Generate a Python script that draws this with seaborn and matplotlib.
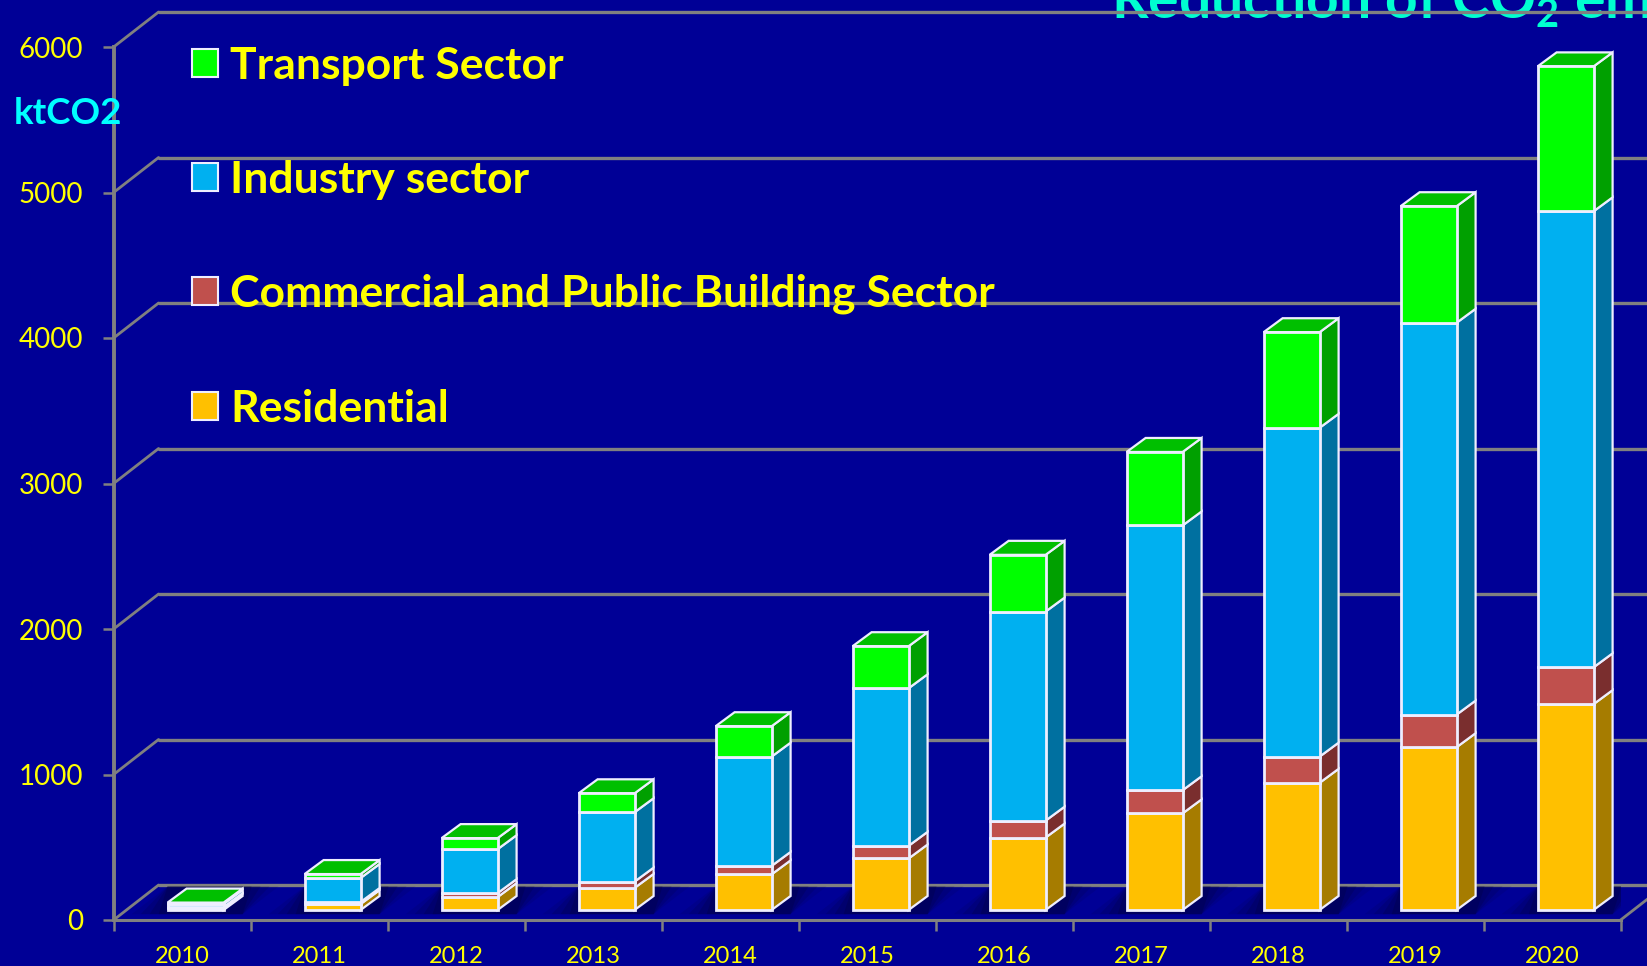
"""Stacked pseudo-3D bars of CO2 reduction by sector, 2010-2020."""

from __future__ import annotations

import matplotlib

matplotlib.use("Agg")

import matplotlib.pyplot as plt
import pandas as pd
import seaborn as sns
from matplotlib.patches import Patch, Polygon

YEARS = ["2010", "2011", "2012", "2013", "2014", "2015", "2016", "2017", "2018", "2019", "2020"]
RESIDENTIAL = [15, 41, 89, 152, 245, 354, 498, 664, 874, 1119, 1415]
COMMERCIAL = [5, 14, 27, 43, 58, 87, 116, 159, 180, 224, 253]
INDUSTRY = [22, 165, 302, 477, 751, 1083, 1437, 1820, 2260, 2693, 3134]
TRANSPORT = [9, 27, 76, 130, 209, 289, 390, 505, 657, 801, 996]
Y_TICKS = [0, 1000, 2000, 3000, 4000, 5000, 6000]

LEGEND_LABELS = [
    "Transport Sector",
    "Industry sector",
    "Commercial and Public Building Sector",
    "Residential",
]

BG = "#000096"
GREY = "#808080"
EDGE = "#eeeeff"
YELLOW = "#ffff00"

# face colour, side colour
SECTOR_COLORS = {
    "Residential": ("#ffc000", "#a67c00"),
    "Commercial": ("#c0504d", "#7a2e2e"),
    "Industry": ("#00b0f0", "#0070a0"),
    "Transport": ("#00ff00", "#00a000"),
}
TOP_COLOR = "#00bf00"

FIG_W, FIG_H = 1647, 966
AX_LEFT, AX_RIGHT = 113.6, 1620.6
AX_TOP, AX_BOTTOM = 47, 920

PX_X = (AX_RIGHT - AX_LEFT) / 11
PX_Y = (AX_BOTTOM - AX_TOP) / 6000

WALL_DX, WALL_DY = 45 / PX_X, 35 / PX_Y
BAR_DX, BAR_DY = 13.5 / PX_X, 10 / PX_Y
SIDE_DX, SIDE_DY = 19 / PX_X, 14 / PX_Y
BAR_WIDTH = 56 / PX_X


def draw_walls(ax) -> None:
    for v in Y_TICKS:
        back = v + WALL_DY
        ax.plot([-0.5, -0.5 + WALL_DX], [v, back], color=GREY, lw=2.0, clip_on=False, zorder=1)
        ax.plot([-0.5 + WALL_DX, 10.5 + WALL_DX], [back, back], color=GREY, lw=2.4, clip_on=False, zorder=1)
    ax.plot([10.5, 10.5 + WALL_DX], [0, WALL_DY], color=GREY, lw=2.0, clip_on=False, zorder=1)


def draw_shadows(ax) -> None:
    for i in range(len(YEARS)):
        left = i - BAR_WIDTH / 2 + BAR_DX
        right = left + BAR_WIDTH + SIDE_DX
        for grow, alpha in [(1.0, 0.12), (0.75, 0.18), (0.5, 0.24), (0.25, 0.3)]:
            reach = grow * 36 / PX_X
            ax.add_patch(
                Polygon(
                    [
                        (left - reach, 40),
                        (right, 40),
                        (right + reach, WALL_DY - 10),
                        (left, WALL_DY - 10),
                    ],
                    closed=True,
                    facecolor="#000040",
                    edgecolor="none",
                    alpha=alpha,
                    zorder=1.5,
                )
            )


def draw_bars(ax) -> None:
    df = pd.DataFrame(
        {
            "year": YEARS,
            "Residential": RESIDENTIAL,
            "Commercial": COMMERCIAL,
            "Industry": INDUSTRY,
            "Transport": TRANSPORT,
        }
    )
    bottom = pd.Series([0] * len(df), dtype=float)
    for sector, (face, side) in SECTOR_COLORS.items():
        before = len(ax.patches)
        sns.barplot(
            data=df,
            x="year",
            y=sector,
            bottom=bottom,
            width=BAR_WIDTH,
            color=face,
            saturation=1,
            edgecolor=EDGE,
            linewidth=2.0,
            ax=ax,
            zorder=3,
        )
        for bar in ax.patches[before:]:
            bar.set_x(bar.get_x() + BAR_DX)
            bar.set_y(bar.get_y() + BAR_DY)
            bar.set_clip_on(False)
            x1 = bar.get_x() + bar.get_width()
            y0 = bar.get_y()
            y1 = y0 + bar.get_height()
            ax.add_patch(
                Polygon(
                    [(x1, y0), (x1 + SIDE_DX, y0 + SIDE_DY), (x1 + SIDE_DX, y1 + SIDE_DY), (x1, y1)],
                    closed=True,
                    facecolor=side,
                    edgecolor=EDGE,
                    linewidth=1.6,
                    zorder=2.8,
                    clip_on=False,
                )
            )
            if sector == "Transport":
                x0 = bar.get_x()
                ax.add_patch(
                    Polygon(
                        [(x0, y1), (x0 + SIDE_DX, y1 + SIDE_DY), (x1 + SIDE_DX, y1 + SIDE_DY), (x1, y1)],
                        closed=True,
                        facecolor=TOP_COLOR,
                        edgecolor=EDGE,
                        linewidth=1.6,
                        zorder=2.8,
                        clip_on=False,
                    )
                )
        bottom = bottom + df[sector]


def main() -> None:
    sns.set_theme(style="white")
    plt.rcParams["font.family"] = ["Lato", "DejaVu Sans"]
    plt.rcParams["mathtext.fontset"] = "custom"
    plt.rcParams["mathtext.rm"] = "Lato:bold"

    fig = plt.figure(figsize=(FIG_W / 100, FIG_H / 100), dpi=100, facecolor=BG)
    ax = fig.add_axes(
        [
            AX_LEFT / FIG_W,
            1 - AX_BOTTOM / FIG_H,
            (AX_RIGHT - AX_LEFT) / FIG_W,
            (AX_BOTTOM - AX_TOP) / FIG_H,
        ],
        facecolor=BG,
    )

    draw_walls(ax)
    draw_shadows(ax)
    draw_bars(ax)

    ax.set_xlim(-0.5, 10.5)
    ax.set_ylim(0, 6000)
    ax.set_xlabel("")
    ax.set_ylabel("")

    ax.set_yticks(Y_TICKS)
    ax.tick_params(axis="y", colors=GREY, labelcolor=YELLOW, labelsize=20, length=8, width=1.8, pad=14, left=True)
    ax.set_xticks(range(len(YEARS)), YEARS)
    ax.set_xticks([i - 0.5 for i in range(len(YEARS) + 1)], minor=True)
    ax.tick_params(axis="x", which="major", length=0, labelcolor=YELLOW, labelsize=17, pad=18.5)
    ax.tick_params(axis="x", which="minor", colors=GREY, length=8, width=1.8, bottom=True)

    for name in ["top", "right"]:
        ax.spines[name].set_visible(False)
    for name in ["left", "bottom"]:
        ax.spines[name].set_color(GREY)
    ax.spines["left"].set_linewidth(2.8)
    ax.spines["bottom"].set_linewidth(2.2)
    ax.spines["left"].set_zorder(1)

    face_by_label = [
        SECTOR_COLORS["Transport"][0],
        SECTOR_COLORS["Industry"][0],
        SECTOR_COLORS["Commercial"][0],
        SECTOR_COLORS["Residential"][0],
    ]
    handles = [
        Patch(facecolor=c, edgecolor=EDGE, linewidth=1.5, label=lab)
        for c, lab in zip(face_by_label, LEGEND_LABELS)
    ]
    leg = fig.legend(
        handles=handles,
        loc="upper left",
        bbox_to_anchor=(192 / FIG_W, 1 - 45.5 / FIG_H),
        bbox_transform=fig.transFigure,
        frameon=False,
        labelcolor=YELLOW,
        prop={"weight": "bold", "size": 32},
        handlelength=0.59,
        handleheight=0.59,
        handletextpad=0.27,
        labelspacing=1.67,
        borderpad=0,
        borderaxespad=0,
    )
    leg.set_zorder(5)

    fig.text(14 / FIG_W, 1 - 114 / FIG_H, "ktCO2", color="#00ffff", fontsize=26.5, fontweight="bold", va="center")
    fig.text(
        1111 / FIG_W,
        1 - 19 / FIG_H,
        r"Reduction of CO$_{\mathrm{2}}$ emissions",
        color="#00ffd0",
        fontsize=41,
        fontweight="bold",
        va="baseline",
        zorder=-1,
    )

    fig.savefig("out.png", dpi=100, facecolor=BG)
    plt.close(fig)


if __name__ == "__main__":
    main()
